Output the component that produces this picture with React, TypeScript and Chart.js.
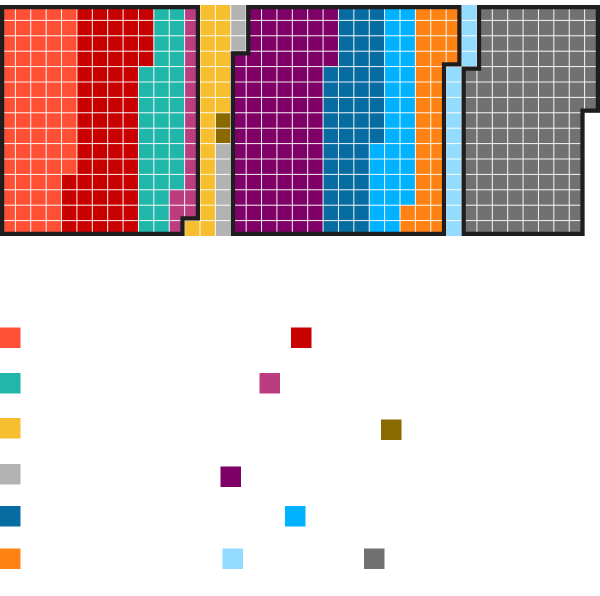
import { useEffect, useRef } from "react";
import { Chart, registerables } from "chart.js";

Chart.register(...registerables);

// Seats per parliamentary group, in seating order (left to right).
const GROUP_NAMES = ["LFI-NFP", "SOC", "EcoS", "GDR", "LIOT", "Autres", "NI", "EPR", "DR", "HOR", "Dem", "UDR", "RN"];
const SEATS = [71, 68, 38, 17, 23, 2, 9, 91, 50, 34, 36, 15, 123];
const COLORS = [
  "#FF5036", "#C80000", "#21B6AA", "#BC3C80", "#F7BF2F", "#8A6A00", "#B3B3B3",
  "#7F0066", "#066CA1", "#00B2FF", "#FF8214", "#93DCFF", "#717171",
];
// Coalition each group belongs to (0 = not outlined).
const BLOCS = [1, 1, 1, 1, 0, 0, 0, 2, 2, 2, 2, 0, 3];

const GRID_COLUMNS = 39;
const GRID_ROWS = 15;

// Legend swatch placement (left, top) in pixels, one per group.
const LEGEND_SLOTS: [number, number][] = [
  [0, 327.5], [291, 327.5],
  [0, 373], [259.5, 373],
  [0, 418], [381, 419.5],
  [0, 464], [220.5, 466.5],
  [0, 506], [285, 506],
  [0, 548.5], [222.5, 548.5], [364, 548.5],
];
const SWATCH = 20.5;
const OUTLINE = "#1E1E1E";

type Cell = { x: number; y: number };

// Seats fill each column top to bottom, columns left to right.
function seatCells(): Cell[][] {
  const out: Cell[][] = SEATS.map(() => []);
  let k = 0;
  SEATS.forEach((n, g) => {
    for (let i = 0; i < n; i++, k++) {
      out[g].push({ x: Math.floor(k / GRID_ROWS), y: k % GRID_ROWS });
    }
  });
  return out;
}

const waffle = {
  id: "waffle",
  afterDatasetsDraw(chart: any) {
    const { ctx } = chart;
    const xs = chart.scales.x;
    const ys = chart.scales.y;
    const px = (v: number) => xs.getPixelForValue(v);
    const py = (v: number) => ys.getPixelForValue(v);
    const rectOf = (p: Cell) => {
      const x0 = px(p.x), x1 = px(p.x + 1);
      const y0 = py(p.y), y1 = py(p.y + 1);
      return { x: x0, y: Math.min(y0, y1), w: x1 - x0, h: Math.abs(y1 - y0) };
    };

    ctx.save();
    // cells
    chart.data.datasets.forEach((ds: any) => {
      ctx.fillStyle = ds.backgroundColor;
      ds.data.forEach((p: Cell) => {
        const r = rectOf(p);
        ctx.fillRect(r.x, r.y, r.w, r.h);
      });
    });

    // thin white separators
    ctx.strokeStyle = "rgba(255,255,255,0.9)";
    ctx.lineWidth = 1;
    ctx.beginPath();
    for (let c = 1; c < GRID_COLUMNS; c++) {
      ctx.moveTo(px(c), py(0));
      ctx.lineTo(px(c), py(GRID_ROWS));
    }
    for (let r = 1; r < GRID_ROWS; r++) {
      ctx.moveTo(px(0), py(r));
      ctx.lineTo(px(GRID_COLUMNS), py(r));
    }
    ctx.stroke();

    // coalition outlines, drawn on the inner side of each block
    const blocOf = new Map<string, number>();
    chart.data.datasets.forEach((ds: any) => {
      ds.data.forEach((p: Cell) => blocOf.set(`${p.x},${p.y}`, ds.bloc));
    });
    const blocIds = Array.from(new Set(BLOCS.filter((b) => b > 0)));
    blocIds.forEach((b) => {
      const cells: Cell[] = [];
      chart.data.datasets.forEach((ds: any) => {
        if (ds.bloc === b) cells.push(...ds.data);
      });
      ctx.save();
      ctx.beginPath();
      cells.forEach((p) => {
        const r = rectOf(p);
        ctx.rect(r.x, r.y, r.w, r.h);
      });
      ctx.clip();
      ctx.beginPath();
      const same = (x: number, y: number) => blocOf.get(`${x},${y}`) === b;
      cells.forEach((p) => {
        const xl = px(p.x), xr = px(p.x + 1), yt = py(p.y), yb = py(p.y + 1);
        if (!same(p.x, p.y - 1)) { ctx.moveTo(xl, yt); ctx.lineTo(xr, yt); }
        if (!same(p.x, p.y + 1)) { ctx.moveTo(xl, yb); ctx.lineTo(xr, yb); }
        if (!same(p.x - 1, p.y)) { ctx.moveTo(xl, yt); ctx.lineTo(xl, yb); }
        if (!same(p.x + 1, p.y)) { ctx.moveTo(xr, yt); ctx.lineTo(xr, yb); }
      });
      ctx.strokeStyle = OUTLINE;
      ctx.lineWidth = 8.5;
      ctx.lineCap = "square";
      ctx.stroke();
      ctx.restore();
    });
    ctx.restore();
  },
  afterDraw(chart: any) {
    const { ctx } = chart;
    ctx.save();
    chart.data.datasets.forEach((ds: any, i: number) => {
      const slot = LEGEND_SLOTS[i];
      if (!slot) return;
      ctx.fillStyle = ds.backgroundColor;
      ctx.fillRect(slot[0], slot[1], SWATCH, SWATCH);
    });
    ctx.restore();
  },
};

export default function App() {
  const canvasRef = useRef<HTMLCanvasElement | null>(null);

  useEffect(() => {
    document.body.style.margin = "0";
    const canvas = canvasRef.current;
    if (!canvas) return;
    const cells = seatCells();
    const chart = new Chart(canvas, {
      type: "scatter",
      data: {
        datasets: SEATS.map((_, g) => ({
          label: GROUP_NAMES[g],
          data: cells[g],
          backgroundColor: COLORS[g],
          borderColor: COLORS[g],
          pointRadius: 0,
          pointHitRadius: 0,
          bloc: BLOCS[g],
        })) as any,
      },
      options: {
        animation: false,
        responsive: false,
        devicePixelRatio: 1,
        layout: { padding: { top: 5, bottom: 360, left: 0, right: 0 } },
        scales: {
          x: { type: "linear", min: 0, max: GRID_COLUMNS, display: false },
          y: { type: "linear", min: 0, max: GRID_ROWS, reverse: true, display: false },
        },
        plugins: {
          legend: { display: false },
          tooltip: { enabled: false },
        },
        events: [],
      },
      plugins: [waffle],
    });
    return () => chart.destroy();
  }, []);

  return (
    <div style={{ width: 600, height: 596, position: "relative" }}>
      <canvas ref={canvasRef} width={600} height={596} style={{ display: "block" }} />
    </div>
  );
}
